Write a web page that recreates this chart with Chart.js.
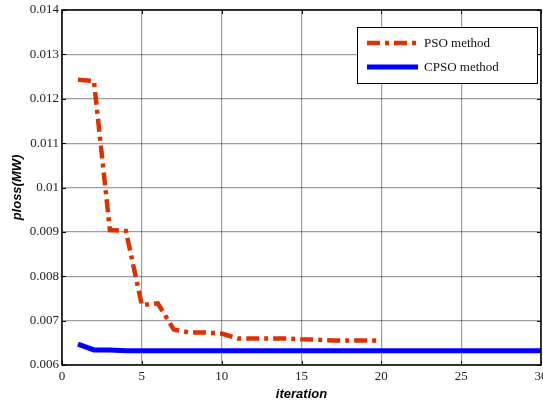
<!DOCTYPE html>
<html>
<head>
<meta charset="utf-8">
<script src="https://cdn.jsdelivr.net/npm/chart.js@4/dist/chart.umd.min.js"></script>
<style>
  html, body { margin: 0; padding: 0; background: #fff; }
  #wrap { width: 543px; height: 405px; }
</style>
</head>
<body>
<div id="wrap"><canvas id="chart" width="543" height="405"></canvas></div>
<script>
/* ── Data ───────────────────────────────────────────────────── */
var psoIter  = [1, 2, 3, 4, 5, 6, 7, 8, 9, 10, 11, 12, 13, 14, 15, 16, 17, 18, 19, 20];
var psoLoss  = [0.01243, 0.01240, 0.00904, 0.00902, 0.00735, 0.00739, 0.00680, 0.00673, 0.00673, 0.00671,
                0.00660, 0.00660, 0.00660, 0.00660, 0.00658, 0.00657, 0.00655, 0.00655, 0.00655, 0.00655];
var cpsoIter = [1, 2, 3, 4, 5, 6, 7, 8, 9, 10, 11, 12, 13, 14, 15, 16, 17, 18, 19, 20,
                21, 22, 23, 24, 25, 26, 27, 28, 29, 30];
var cpsoLoss = [0.00647, 0.00634, 0.00634, 0.00632, 0.00632, 0.00632, 0.00632, 0.00632, 0.00632, 0.00632,
                0.00632, 0.00632, 0.00632, 0.00632, 0.00632, 0.00632, 0.00632, 0.00632, 0.00632, 0.00632,
                0.00632, 0.00632, 0.00632, 0.00632, 0.00632, 0.00632, 0.00632, 0.00632, 0.00632, 0.00632];
var xTicks = [0, 5, 10, 15, 20, 25, 30];
var yTicks = [0.006, 0.007, 0.008, 0.009, 0.01, 0.011, 0.012, 0.013, 0.014];

function pairs(xs, ys) {
    return xs.map(function (x, i) { return { x: x, y: ys[i] }; });
}

var serif = "'Liberation Serif', 'Times New Roman', serif";
var sans  = "'Liberation Sans', Arial, sans-serif";

/* ── Frame + inward ticks ───────────────────────────────────── */
var framePlugin = {
    id: 'frame',
    afterDraw: function (chart) {
        var ctx = chart.ctx, a = chart.chartArea;
        var xs = chart.scales.x, ys = chart.scales.y;
        ctx.save();
        ctx.strokeStyle = '#000';
        ctx.lineWidth = 1.5;
        ctx.strokeRect(a.left, a.top, a.right - a.left, a.bottom - a.top);
        ctx.lineWidth = 1;
        ctx.beginPath();
        xTicks.forEach(function (v) {
            var px = Math.round(xs.getPixelForValue(v)) + 0.5;
            ctx.moveTo(px, a.bottom); ctx.lineTo(px, a.bottom - 4);
            ctx.moveTo(px, a.top);    ctx.lineTo(px, a.top + 4);
        });
        yTicks.forEach(function (v) {
            var py = Math.round(ys.getPixelForValue(v)) + 0.5;
            ctx.moveTo(a.left, py);  ctx.lineTo(a.left + 4, py);
            ctx.moveTo(a.right, py); ctx.lineTo(a.right - 4, py);
        });
        ctx.stroke();
        ctx.restore();
    }
};

/* ── Legend box (top right) ─────────────────────────────────── */
var legendPlugin = {
    id: 'boxLegend',
    afterDraw: function (chart) {
        var ctx = chart.ctx;
        var x0 = 357, y0 = 27, w = 180, h = 56;
        ctx.save();
        ctx.fillStyle = '#fff';
        ctx.fillRect(x0, y0, w, h);
        ctx.strokeStyle = '#000';
        ctx.lineWidth = 1;
        ctx.strokeRect(x0 + 0.5, y0 + 0.5, w, h);
        chart.data.datasets.forEach(function (ds, i) {
            var y = 43 + i * 24;
            ctx.strokeStyle = ds.borderColor;
            ctx.lineWidth = ds.borderWidth;
            ctx.lineCap = 'butt';
            ctx.setLineDash(ds.borderDash || []);
            ctx.beginPath();
            ctx.moveTo(367, y); ctx.lineTo(418, y);
            ctx.stroke();
            ctx.setLineDash([]);
            ctx.fillStyle = '#111';
            ctx.font = '13px ' + serif;
            ctx.textBaseline = 'middle';
            ctx.fillText(ds.label, 424, y + 1);
        });
        ctx.restore();
    }
};

new Chart(document.getElementById('chart'), {
    type: 'line',
    data: {
        datasets: [{
            label: 'PSO method',
            data: pairs(psoIter, psoLoss),
            borderColor: '#dc3200',
            borderWidth: 4.5,
            borderDash: [13, 5, 4, 5],
            borderCapStyle: 'butt',
            pointRadius: 0,
            tension: 0,
            fill: false
        }, {
            label: 'CPSO method',
            data: pairs(cpsoIter, cpsoLoss),
            borderColor: '#0000ff',
            borderWidth: 5,
            pointRadius: 0,
            tension: 0,
            fill: false
        }]
    },
    options: {
        responsive: false,
        animation: false,
        layout: { padding: { top: 10, right: 2, left: 0, bottom: 0 } },
        plugins: { legend: { display: false }, tooltip: { enabled: false } },
        scales: {
            x: {
                type: 'linear',
                min: 0, max: 30,
                afterBuildTicks: function (s) { s.ticks = xTicks.map(function (v) { return { value: v }; }); },
                afterFit: function (s) { s.height = 40; s.paddingLeft = 0; s.paddingRight = 0; },
                grid: { color: 'rgba(0,0,0,0.38)', lineWidth: 1.2, drawTicks: false },
                border: { display: false },
                ticks: {
                    padding: 4, color: '#222', maxRotation: 0, autoSkip: false,
                    font: { family: serif, size: 13 }
                },
                title: {
                    display: true, text: 'iteration', color: '#000',
                    padding: { top: 0, bottom: 3 },
                    font: { family: sans, size: 13, weight: 'bold', style: 'italic' }
                }
            },
            y: {
                type: 'linear',
                min: 0.006, max: 0.014,
                afterBuildTicks: function (s) { s.ticks = yTicks.map(function (v) { return { value: v }; }); },
                afterFit: function (s) { s.width = 62; s.paddingTop = 0; s.paddingBottom = 0; },
                grid: { color: 'rgba(0,0,0,0.38)', lineWidth: 1.2, drawTicks: false },
                border: { display: false },
                ticks: {
                    padding: 3, color: '#222', autoSkip: false,
                    font: { family: serif, size: 13 },
                    callback: function (v) { return String(Number(v.toFixed(3))); }
                },
                title: {
                    display: true, text: 'ploss(MW)', color: '#000',
                    padding: { top: 10, bottom: 0 },
                    font: { family: sans, size: 13, weight: 'bold', style: 'italic' }
                }
            }
        }
    },
    plugins: [framePlugin, legendPlugin]
});
</script>
</body>
</html>
